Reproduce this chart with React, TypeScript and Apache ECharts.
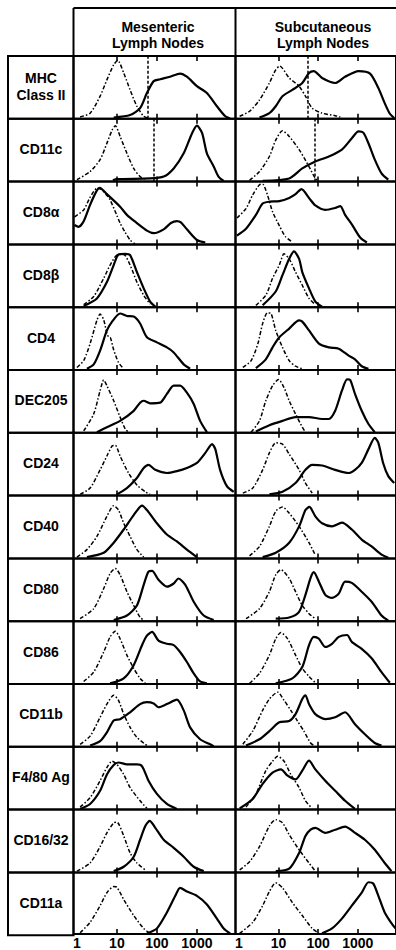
import React, { useEffect, useRef } from "react";
import * as echarts from "echarts";

type Pt = [number, number];

// x = log10(fluorescence intensity), y = relative cell number (% of panel height)
const rowLabels = [
  "MHC\nClass II", "CD11c", "CD8α", "CD8β", "CD4", "DEC205", "CD24",
  "CD40", "CD80", "CD86", "CD11b", "F4/80 Ag", "CD16/32", "CD11a",
];
const columnTitles = ["Mesenteric\nLymph Nodes", "Subcutaneous\nLymph Nodes"];
const tickDecades = [0, 1, 2, 3];
const tickLabels = ["1", "10", "100", "1000"];
const innerTicks = [1, 2, 3];

// MHC Class II
const mesMhcCtrl: Pt[] = [[0.08,3],[0.33,9],[0.58,36],[0.75,62],[0.92,86],[1.02,93],[1.17,73],[1.33,46],[1.5,20],[1.67,4],[1.79,1]];
const mesMhcStain: Pt[] = [[0.92,2],[1.33,6],[1.58,17],[1.75,41],[1.92,60],[2.08,63],[2.33,67],[2.58,72],[2.75,67],[3.0,52],[3.25,41],[3.5,20],[3.71,4],[3.83,0.5]];
const subMhcCtrl: Pt[] = [[0.02,4],[0.27,12],[0.52,30],[0.77,57],[0.93,78],[1.03,84],[1.27,65],[1.52,52],[1.68,36],[1.85,17],[2.1,9],[2.43,5],[2.56,3]];
const subMhcStain: Pt[] = [[0.52,2],[0.77,9],[0.93,20],[1.1,36],[1.35,46],[1.6,57],[1.77,73],[1.89,76],[2.1,65],[2.43,57],[2.68,67],[3.02,76],[3.31,72],[3.52,49],[3.68,25],[3.81,8],[3.92,1]];
// CD11c
const mesCd11cCtrl: Pt[] = [[0,3],[0.33,16],[0.58,35],[0.75,61],[0.88,82],[0.96,89],[1.08,72],[1.25,45],[1.42,21],[1.58,8],[1.75,3]];
const mesCd11cStain: Pt[] = [[0.9,2],[1.0,4],[1.83,5],[2.17,8],[2.42,21],[2.67,45],[2.88,77],[3.0,89],[3.13,77],[3.25,45],[3.42,24],[3.54,8],[3.67,1]];
const subCd11cCtrl: Pt[] = [[0.27,2],[0.52,16],[0.77,40],[0.93,66],[1.1,81],[1.27,72],[1.52,51],[1.77,24],[1.93,5],[2.02,1]];
const subCd11cStain: Pt[] = [[0.6,1],[1.27,5],[1.6,21],[1.93,32],[2.27,40],[2.6,51],[2.85,69],[3.02,80],[3.14,78],[3.27,61],[3.43,35],[3.6,13],[3.77,3]];
// CD8alpha
const mesCd8aCtrl: Pt[] = [[-0.06,44],[0.17,55],[0.33,75],[0.5,89],[0.6,88],[0.75,78],[0.83,71],[1.0,46],[1.08,34],[1.2,20],[1.33,7],[1.45,1]];
const mesCd8aStain: Pt[] = [[-0.06,31],[0.04,28],[0.17,37],[0.33,63],[0.5,86],[0.57,90],[0.75,80],[1.08,60],[1.25,47],[1.5,34],[1.75,22],[1.92,18],[2.17,24],[2.35,34],[2.5,37],[2.6,35],[2.75,24],[3.0,7],[3.21,3]];
const subCd8aCtrl: Pt[] = [[-0.05,42],[0.18,57],[0.35,79],[0.52,95],[0.6,96],[0.72,79],[0.85,52],[1.02,30],[1.18,12],[1.35,4]];
const subCd8aStain: Pt[] = [[-0.05,14],[0.18,25],[0.43,47],[0.6,65],[0.77,68],[1.02,69],[1.27,74],[1.43,80],[1.58,88],[1.77,74],[1.93,62],[2.18,55],[2.43,58],[2.56,61],[2.68,47],[2.85,32],[3.06,11],[3.23,3]];
// CD8beta
const mesCd8bCtrl: Pt[] = [[0.17,4],[0.42,17],[0.67,46],[0.83,67],[1.0,83],[1.17,84],[1.33,67],[1.5,40],[1.67,19],[1.83,5]];
const mesCd8bStain: Pt[] = [[0.17,2],[0.5,14],[0.75,40],[0.92,67],[1.04,84],[1.21,85],[1.33,83],[1.5,56],[1.67,30],[1.83,9],[1.96,1]];
const subCd8bCtrl: Pt[] = [[0.43,3],[0.68,19],[0.85,46],[1.02,67],[1.14,85],[1.27,77],[1.43,56],[1.6,35],[1.77,14],[1.93,4]];
const subCd8bStain: Pt[] = [[0.6,3],[0.93,25],[1.1,51],[1.27,77],[1.39,89],[1.52,77],[1.6,56],[1.77,30],[1.93,9],[2.1,1]];
// CD4
const mesCd4Ctrl: Pt[] = [[0,4],[0.17,15],[0.33,42],[0.5,79],[0.58,89],[0.67,80],[0.75,58],[0.8,52],[0.84,51],[0.92,32],[1.04,12],[1.17,2]];
const mesCd4Stain: Pt[] = [[0.25,2],[0.42,9],[0.58,31],[0.75,63],[0.88,77],[1.08,90],[1.25,86],[1.42,85],[1.58,74],[1.75,52],[2.0,44],[2.25,36],[2.42,28],[2.67,9],[2.83,2]];
const subCd4Ctrl: Pt[] = [[0.1,4],[0.31,15],[0.48,42],[0.6,74],[0.72,91],[0.81,90],[0.93,63],[1.1,36],[1.27,15],[1.43,6],[1.6,2]];
const subCd4Stain: Pt[] = [[0.43,3],[0.68,17],[0.85,36],[1.02,52],[1.27,66],[1.52,79],[1.6,77],[1.77,63],[2.02,42],[2.27,36],[2.52,34],[2.77,23],[2.93,17],[3.1,6],[3.27,2]];
// DEC205
const mesDecCtrl: Pt[] = [[0.17,3],[0.42,30],[0.58,67],[0.67,84],[0.75,75],[0.92,51],[1.08,25],[1.21,6],[1.29,1]];
const mesDecStain: Pt[] = [[0.5,1],[0.75,9],[1.08,19],[1.42,35],[1.58,48],[1.67,51],[1.83,47],[2.08,48],[2.25,62],[2.42,75],[2.58,75],[2.75,64],[2.92,46],[3.08,19],[3.25,1]];
const subDecCtrl: Pt[] = [[0.31,1],[0.52,19],[0.68,51],[0.85,75],[1.0,85],[1.14,72],[1.27,51],[1.43,30],[1.6,9],[1.68,1]];
const subDecStain: Pt[] = [[0.43,2],[0.77,12],[1.1,19],[1.43,25],[1.77,25],[2.1,22],[2.27,22],[2.43,35],[2.6,67],[2.73,85],[2.81,84],[2.93,62],[3.1,35],[3.27,14],[3.43,1]];
// CD24
const mesCd24Ctrl: Pt[] = [[0.08,2],[0.33,12],[0.58,41],[0.75,63],[0.88,79],[0.96,80],[1.08,63],[1.29,36],[1.5,17],[1.71,6],[1.83,2]];
const mesCd24Stain: Pt[] = [[1.0,2],[1.25,12],[1.5,28],[1.67,44],[1.79,49],[1.96,41],[2.25,36],[2.5,39],[2.75,44],[3.0,52],[3.21,68],[3.38,82],[3.46,74],[3.58,41],[3.75,15],[3.92,6]];
const subCd24Ctrl: Pt[] = [[0.1,4],[0.35,12],[0.6,41],[0.77,68],[0.93,84],[1.1,82],[1.27,66],[1.52,41],[1.68,20],[1.85,4]];
const subCd24Stain: Pt[] = [[0.77,2],[1.1,6],[1.43,20],[1.68,41],[1.85,49],[2.1,48],[2.43,41],[2.77,36],[2.93,41],[3.1,52],[3.27,74],[3.43,92],[3.52,84],[3.64,52],[3.77,31],[3.92,20]];
// CD40
const mesCd40Ctrl: Pt[] = [[0,2],[0.25,14],[0.5,35],[0.75,67],[0.92,84],[1.04,77],[1.17,56],[1.33,35],[1.5,14],[1.67,2]];
const mesCd40Stain: Pt[] = [[0.25,2],[0.67,9],[0.92,25],[1.17,46],[1.42,69],[1.63,84],[1.75,77],[2.0,56],[2.25,38],[2.5,27],[2.75,14],[3.0,2]];
const subCd40Ctrl: Pt[] = [[0.27,4],[0.52,19],[0.77,51],[0.93,75],[1.1,82],[1.27,72],[1.52,51],[1.77,25],[1.93,5]];
const subCd40Stain: Pt[] = [[0.6,2],[0.93,9],[1.27,25],[1.52,51],[1.68,77],[1.78,82],[1.93,67],[2.1,56],[2.35,51],[2.6,57],[2.85,46],[3.1,30],[3.35,19],[3.6,6],[3.77,1]];
// CD80
const mesCd80Ctrl: Pt[] = [[0.08,4],[0.42,20],[0.67,52],[0.83,76],[0.96,84],[1.08,74],[1.25,47],[1.42,25],[1.58,6],[1.67,2]];
const mesCd80Stain: Pt[] = [[0.92,2],[1.25,9],[1.5,25],[1.67,58],[1.79,79],[1.88,80],[2.04,66],[2.25,55],[2.42,60],[2.54,68],[2.71,58],[2.92,31],[3.17,9],[3.42,2]];
const subCd80Ctrl: Pt[] = [[0.18,4],[0.52,20],[0.77,47],[0.93,74],[1.06,82],[1.27,68],[1.43,47],[1.6,25],[1.77,12],[1.93,4]];
const subCd80Stain: Pt[] = [[0.93,4],[1.27,6],[1.52,15],[1.68,42],[1.81,69],[1.89,78],[2.02,63],[2.18,42],[2.35,37],[2.52,44],[2.68,63],[2.85,61],[3.1,47],[3.35,31],[3.6,9],[3.77,1]];
// CD86
const mesCd86Ctrl: Pt[] = [[0.17,4],[0.42,19],[0.67,51],[0.83,75],[0.96,84],[1.08,72],[1.25,46],[1.42,25],[1.58,9],[1.71,1]];
const mesCd86Stain: Pt[] = [[0.83,1],[1.17,9],[1.42,30],[1.63,62],[1.75,77],[1.88,83],[2.04,69],[2.25,64],[2.42,62],[2.58,51],[2.75,35],[2.92,17],[3.08,4],[3.25,1]];
const subCd86Ctrl: Pt[] = [[0.27,1],[0.52,17],[0.77,46],[0.93,72],[1.06,82],[1.23,72],[1.43,46],[1.6,25],[1.77,12],[1.93,2]];
const subCd86Stain: Pt[] = [[0.93,1],[1.35,9],[1.6,27],[1.77,62],[1.89,75],[2.02,72],[2.18,59],[2.35,64],[2.52,75],[2.73,78],[2.85,67],[3.1,56],[3.35,41],[3.6,19],[3.81,2]];
// CD11b
const mesCd11bCtrl: Pt[] = [[0.08,4],[0.33,17],[0.58,47],[0.75,68],[0.92,82],[1.04,74],[1.17,52],[1.33,31],[1.5,15],[1.75,2]];
const mesCd11bStain: Pt[] = [[0.33,2],[0.58,9],[0.75,23],[0.92,42],[1.08,44],[1.33,55],[1.58,68],[1.75,71],[1.92,69],[2.04,63],[2.25,68],[2.5,75],[2.67,58],[2.83,31],[3.08,12],[3.33,4],[3.42,1]];
const subCd11bCtrl: Pt[] = [[0.1,4],[0.35,25],[0.6,58],[0.77,76],[0.98,87],[1.14,74],[1.31,58],[1.48,41],[1.64,25],[1.81,6],[1.89,2]];
const subCd11bStain: Pt[] = [[0.18,2],[0.52,12],[0.77,25],[1.02,39],[1.27,41],[1.43,52],[1.6,76],[1.68,82],[1.77,68],[1.93,52],[2.18,44],[2.43,47],[2.68,55],[2.93,36],[3.18,20],[3.43,6],[3.6,2]];
// F4/80 Ag
const mesF480Ctrl: Pt[] = [[0.08,4],[0.33,19],[0.58,46],[0.75,67],[0.88,77],[1.0,72],[1.17,56],[1.33,35],[1.58,14],[1.75,2]];
const mesF480Stain: Pt[] = [[0.08,1],[0.33,9],[0.58,30],[0.75,56],[0.92,71],[1.04,75],[1.25,72],[1.5,72],[1.63,69],[1.79,46],[2.0,25],[2.25,9],[2.5,1]];
const subF480Ctrl: Pt[] = [[0.18,4],[0.43,25],[0.68,62],[0.85,77],[0.98,85],[1.14,77],[1.31,56],[1.52,35],[1.68,14],[1.85,2]];
const subF480Stain: Pt[] = [[0.02,2],[0.35,17],[0.6,41],[0.85,59],[1.06,64],[1.23,54],[1.43,48],[1.6,62],[1.77,78],[1.93,64],[2.18,46],[2.43,30],[2.68,14],[2.93,1]];
// CD16/32
const mesCd16Ctrl: Pt[] = [[0,2],[0.33,15],[0.58,41],[0.75,63],[0.92,79],[1.0,80],[1.17,58],[1.33,31],[1.5,15],[1.71,4]];
const mesCd16Stain: Pt[] = [[0.92,2],[1.17,9],[1.42,25],[1.58,52],[1.71,74],[1.82,82],[1.96,71],[2.17,52],[2.42,39],[2.67,25],[2.92,9],[3.17,2]];
const subCd16Ctrl: Pt[] = [[0.02,4],[0.27,17],[0.52,41],[0.77,74],[0.93,84],[1.1,79],[1.27,60],[1.52,36],[1.77,15],[1.93,2]];
const subCd16Stain: Pt[] = [[0.93,2],[1.27,6],[1.52,31],[1.68,58],[1.81,68],[1.93,71],[2.18,63],[2.43,68],[2.68,73],[2.93,63],[3.18,52],[3.43,36],[3.68,15],[3.85,2]];
// CD11a
const mesCd11aCtrl: Pt[] = [[0.08,2],[0.33,19],[0.58,46],[0.75,67],[0.92,77],[1.0,76],[1.17,56],[1.42,30],[1.67,9],[1.83,1]];
const mesCd11aStain: Pt[] = [[1.75,1],[2.0,9],[2.25,35],[2.46,62],[2.58,75],[2.75,69],[3.0,62],[3.25,48],[3.5,25],[3.67,9],[3.83,1]];
const subCd11aCtrl: Pt[] = [[0.02,1],[0.35,19],[0.6,46],[0.77,69],[0.93,83],[1.1,75],[1.35,51],[1.6,30],[1.85,9],[2.02,1]];
const subCd11aStain: Pt[] = [[2.1,1],[2.35,9],[2.6,25],[2.85,46],[3.1,67],[3.27,84],[3.39,82],[3.52,62],[3.68,35],[3.89,14],[4.0,6]];

const mesentericControl = [mesMhcCtrl, mesCd11cCtrl, mesCd8aCtrl, mesCd8bCtrl, mesCd4Ctrl, mesDecCtrl, mesCd24Ctrl, mesCd40Ctrl, mesCd80Ctrl, mesCd86Ctrl, mesCd11bCtrl, mesF480Ctrl, mesCd16Ctrl, mesCd11aCtrl];
const mesentericStain = [mesMhcStain, mesCd11cStain, mesCd8aStain, mesCd8bStain, mesCd4Stain, mesDecStain, mesCd24Stain, mesCd40Stain, mesCd80Stain, mesCd86Stain, mesCd11bStain, mesF480Stain, mesCd16Stain, mesCd11aStain];
const subcutaneousControl = [subMhcCtrl, subCd11cCtrl, subCd8aCtrl, subCd8bCtrl, subCd4Ctrl, subDecCtrl, subCd24Ctrl, subCd40Ctrl, subCd80Ctrl, subCd86Ctrl, subCd11bCtrl, subF480Ctrl, subCd16Ctrl, subCd11aCtrl];
const subcutaneousStain = [subMhcStain, subCd11cStain, subCd8aStain, subCd8bStain, subCd4Stain, subDecStain, subCd24Stain, subCd40Stain, subCd80Stain, subCd86Stain, subCd11bStain, subF480Stain, subCd16Stain, subCd11aStain];

// gate markers (log10 intensity) for MHC II and CD11c rows
const mesentericGates: (number | null)[] = [1.77, 1.93];
const subcutaneousGates: (number | null)[] = [1.74, 1.91];

const FONT = '"Liberation Sans", Arial, Helvetica, sans-serif';

export default function App() {
  const ref = useRef<HTMLDivElement>(null);
  useEffect(() => {
    document.body.style.margin = "0";
    const chart = echarts.init(ref.current!, null, { renderer: "svg" });

    const TOP = 56;
    const ROW_H = 62.8;
    const COL_X = [73.5, 235.5];
    const COL_W = 162;
    const X_MIN = -0.085;
    const X_MAX = X_MIN + COL_W / 40;
    const LABEL_X = 8;

    const columns = [
      { ctrl: mesentericControl, stain: mesentericStain, gates: mesentericGates },
      { ctrl: subcutaneousControl, stain: subcutaneousStain, gates: subcutaneousGates },
    ];

    const grid: any[] = [];
    const xAxis: any[] = [];
    const yAxis: any[] = [];
    const series: any[] = [];

    const tickStyle = { show: true, inside: true, length: 5, customValues: innerTicks, lineStyle: { color: "#000", width: 1.6 } };

    for (let r = 0; r < rowLabels.length; r++) {
      for (let c = 0; c < 2; c++) {
        const g = grid.length;
        grid.push({
          left: COL_X[c], top: TOP + r * ROW_H, width: COL_W, height: ROW_H,
          show: true, borderColor: "#000", borderWidth: 2, backgroundColor: "transparent",
        });
        const isLast = r === rowLabels.length - 1;
        xAxis.push({
          type: "value", gridIndex: g, min: X_MIN, max: X_MAX, position: "bottom",
          axisLine: { show: false }, splitLine: { show: false }, axisTick: tickStyle,
          axisLabel: isLast
            ? {
                show: true, customValues: tickDecades, margin: 2,
                formatter: (v: number) => tickLabels[tickDecades.indexOf(Math.round(v))] ?? "",
                color: "#000", fontSize: 14, fontWeight: "bold", fontFamily: FONT,
              }
            : { show: false },
        });
        xAxis.push({
          type: "value", gridIndex: g, min: X_MIN, max: X_MAX, position: "top",
          axisLine: { show: false }, splitLine: { show: false }, axisTick: tickStyle,
          axisLabel: { show: false },
        });
        yAxis.push({ type: "value", gridIndex: g, min: 0, max: 100, show: false });

        const col = columns[c];
        series.push({
          type: "line", xAxisIndex: 2 * g, yAxisIndex: g, data: col.ctrl[r],
          showSymbol: false, smooth: 0.25, silent: true,
          lineStyle: { color: "#000", width: 1.5, type: [4, 2, 1.5, 2] },
        });
        const gate = r < col.gates.length ? col.gates[r] : null;
        series.push({
          type: "line", xAxisIndex: 2 * g, yAxisIndex: g, data: col.stain[r],
          showSymbol: false, smooth: 0.25, silent: true,
          lineStyle: { color: "#000", width: 2.2 },
          markLine: gate != null
            ? {
                symbol: "none", silent: true, label: { show: false },
                lineStyle: { color: "#000", width: 1.5, type: [3, 2] },
                data: [{ xAxis: gate }],
              }
            : undefined,
        });
      }
    }

    const graphic: any[] = [
      { type: "line", shape: { x1: COL_X[0], y1: 8, x2: 396, y2: 8 }, style: { stroke: "#000", lineWidth: 2 } },
      { type: "line", shape: { x1: COL_X[0], y1: 8, x2: COL_X[0], y2: TOP }, style: { stroke: "#000", lineWidth: 2 } },
      { type: "line", shape: { x1: COL_X[1], y1: 8, x2: COL_X[1], y2: TOP }, style: { stroke: "#000", lineWidth: 2 } },
    ];
    const titleX = [158, 323];
    columnTitles.forEach((t, i) => {
      graphic.push({
        type: "text", x: titleX[i], y: 35,
        style: { text: t, fill: "#000", fontSize: 14, fontWeight: "bold", fontFamily: FONT, align: "center", verticalAlign: "middle", lineHeight: 16 },
      });
    });
    rowLabels.forEach((t, r) => {
      graphic.push({
        type: "rect", shape: { x: LABEL_X, y: TOP + r * ROW_H, width: COL_X[0] - LABEL_X, height: ROW_H },
        style: { fill: "none", stroke: "#000", lineWidth: 2 },
      });
      graphic.push({
        type: "text", x: 41, y: TOP + r * ROW_H + ROW_H / 2 - 1,
        style: { text: t, fill: "#000", fontSize: 14, fontWeight: "bold", fontFamily: FONT, align: "center", verticalAlign: "middle", lineHeight: 17 },
      });
    });

    chart.setOption({
      animation: false,
      backgroundColor: "#fff",
      grid, xAxis, yAxis, series, graphic,
    });
    return () => chart.dispose();
  }, []);
  return <div ref={ref} style={{ width: 396, height: 950 }} />;
}
